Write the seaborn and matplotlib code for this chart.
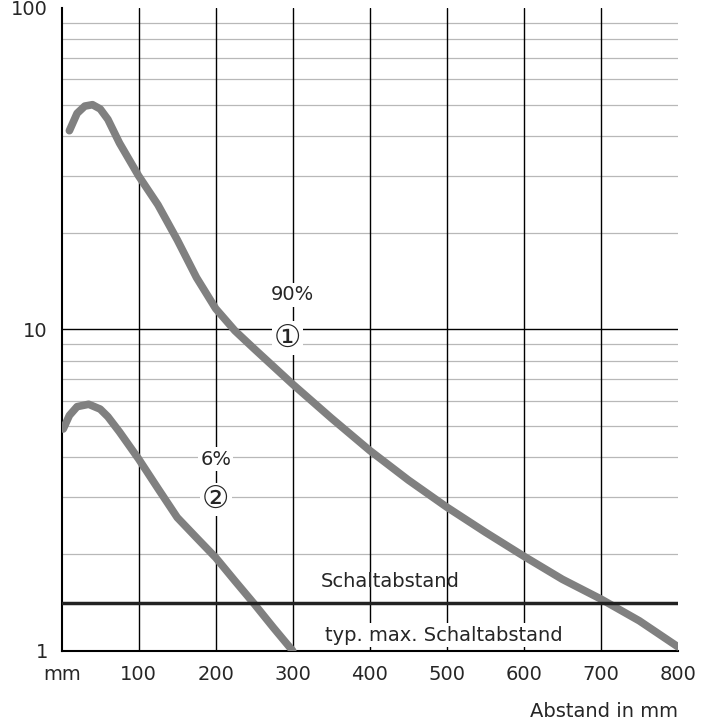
import matplotlib
matplotlib.use('Agg')
import matplotlib.pyplot as plt
import seaborn as sns
import numpy as np

# curve 1 (90 %) and curve 2 (6 %)
x1 = [10, 20, 30, 40, 50, 60, 75, 100, 125, 150, 175, 200, 225, 250, 300, 350, 400, 450, 500, 550, 600, 650, 700, 750, 800]
y1 = [41.5, 47, 49.5, 50, 48.5, 45, 38, 30, 24.4, 19, 14.5, 11.6, 9.9, 8.7, 6.75, 5.3, 4.2, 3.4, 2.8, 2.34, 1.97, 1.67, 1.45, 1.24, 1.03]
x2 = [2, 10, 20, 35, 50, 60, 75, 100, 125, 150, 175, 200, 225, 250, 275, 300]
y2 = [4.9, 5.4, 5.75, 5.85, 5.65, 5.35, 4.8, 3.95, 3.2, 2.6, 2.25, 1.95, 1.65, 1.4, 1.18, 1.0]
schalt = 1.41
xticks = [100, 200, 300, 400, 500, 600, 700, 800]

sns.set_style('white')
plt.rcParams['font.family'] = ['DejaVu Sans']
fig = plt.figure(figsize=(7.01, 7.2), dpi=100)
ax = fig.add_axes([0.088, 0.096, 0.879, 0.893])
ax.set_yscale('log')
ax.set_xlim(0, 800)
ax.set_ylim(1, 100)

for d in [1, 10]:
    for m in range(2, 10):
        ax.axhline(d * m, color='#b8b8b8', lw=0.9, zorder=1)
ax.axhline(10, color='black', lw=1.0, zorder=1)
for xv in xticks[:-1]:
    ax.axvline(xv, color='black', lw=1.0, zorder=1)

sns.lineplot(x=x1, y=y1, ax=ax, color='#808080', lw=5.5, zorder=3, solid_capstyle='round')
sns.lineplot(x=x2, y=y2, ax=ax, color='#808080', lw=5.5, zorder=3, solid_capstyle='round')
ax.axhline(schalt, color='#222222', lw=2.5, zorder=4)

for s in ['top', 'right']:
    ax.spines[s].set_visible(False)
for s in ['left', 'bottom']:
    ax.spines[s].set_color('black')
    ax.spines[s].set_linewidth(1.5)

ax.set_yticks([1, 10, 100])
ax.set_yticklabels(['1', '10', '100'])
ax.yaxis.set_minor_locator(matplotlib.ticker.NullLocator())
ax.set_xticks([0] + xticks)
ax.set_xticklabels(['mm'] + [str(v) for v in xticks])
ax.tick_params(length=0, labelsize=14, pad=10)
ax.text(1.0, -0.08, 'Abstand in mm', transform=ax.transAxes, ha='right', va='top', fontsize=14)

bb = dict(facecolor='white', edgecolor='none', pad=1.5)
ax.text(300, 12.8, '90%', ha='center', va='center', fontsize=14, bbox=bb, zorder=5)
ax.text(293, 9.4, '①', ha='center', va='center', fontsize=22, bbox=bb, zorder=5)
ax.text(200, 3.95, '6%', ha='center', va='center', fontsize=14, bbox=bb, zorder=5)
ax.text(200, 2.96, '②', ha='center', va='center', fontsize=22, bbox=bb, zorder=5)
ax.text(427, 1.64, 'Schaltabstand', ha='center', va='center', fontsize=14, zorder=5)
ax.text(496, 1.12, 'typ. max. Schaltabstand', ha='center', va='center', fontsize=14, bbox=bb, zorder=5)

fig.savefig('out.png', dpi=100)
